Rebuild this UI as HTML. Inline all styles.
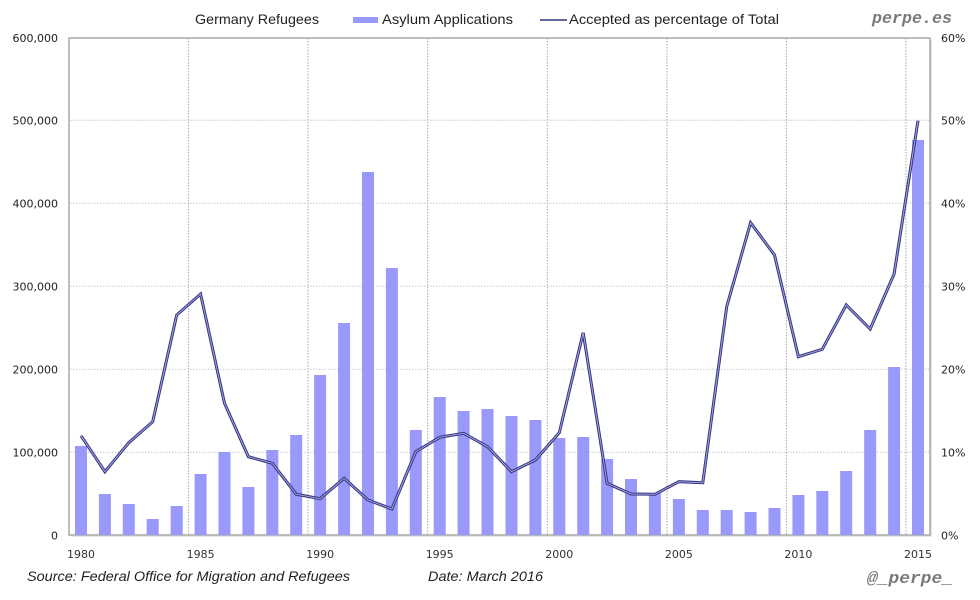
<!DOCTYPE html>
<html><head><meta charset="utf-8"><style>
html,body{margin:0;padding:0;background:#fff;}
svg{display:block;}
</style></head><body>
<svg width="980" height="600" viewBox="0 0 980 600" xmlns="http://www.w3.org/2000/svg">
<rect x="0" y="0" width="980" height="600" fill="#fff"/>
<!-- plot shadow -->
<rect x="71" y="40" width="861" height="497" fill="#e6e6e6"/>
<rect x="69" y="38" width="861" height="497" fill="#fff" stroke="#a8a8a8" stroke-width="1.5"/>
<!-- horizontal gridlines -->
<g stroke="#c8c8c8" stroke-width="1" stroke-dasharray="1.5,1.5">
<line x1="70" y1="120.3" x2="930" y2="120.3"/>
<line x1="70" y1="203.3" x2="930" y2="203.3"/>
<line x1="70" y1="286.3" x2="930" y2="286.3"/>
<line x1="70" y1="369.3" x2="930" y2="369.3"/>
<line x1="70" y1="452.3" x2="930" y2="452.3"/>
</g>
<!-- vertical gridlines -->
<g stroke="#a8a8a8" stroke-width="1" stroke-dasharray="1.5,1.5">
<line x1="188.6" y1="38" x2="188.6" y2="535"/>
<line x1="308.1" y1="38" x2="308.1" y2="535"/>
<line x1="427.7" y1="38" x2="427.7" y2="535"/>
<line x1="547.3" y1="38" x2="547.3" y2="535"/>
<line x1="666.9" y1="38" x2="666.9" y2="535"/>
<line x1="786.4" y1="38" x2="786.4" y2="535"/>
<line x1="906" y1="38" x2="906" y2="535"/>
</g>
<!-- bars -->
<g fill="#9999fb">
<rect x="75" y="446" width="12" height="89"/>
<rect x="98.9" y="494" width="12" height="41"/>
<rect x="122.8" y="504" width="12" height="31"/>
<rect x="146.7" y="519" width="12" height="16"/>
<rect x="170.7" y="506" width="12" height="29"/>
<rect x="194.6" y="474" width="12" height="61"/>
<rect x="218.5" y="452" width="12" height="83"/>
<rect x="242.4" y="487" width="12" height="48"/>
<rect x="266.3" y="450" width="12" height="85"/>
<rect x="290.2" y="435" width="12" height="100"/>
<rect x="314.1" y="375" width="12" height="160"/>
<rect x="338.1" y="323" width="12" height="212"/>
<rect x="362" y="172" width="12" height="363"/>
<rect x="385.9" y="268" width="12" height="267"/>
<rect x="409.8" y="430" width="12" height="105"/>
<rect x="433.7" y="397" width="12" height="138"/>
<rect x="457.6" y="411" width="12" height="124"/>
<rect x="481.5" y="409" width="12" height="126"/>
<rect x="505.5" y="416" width="12" height="119"/>
<rect x="529.4" y="420" width="12" height="115"/>
<rect x="553.3" y="438" width="12" height="97"/>
<rect x="577.2" y="437" width="12" height="98"/>
<rect x="601.1" y="459" width="12" height="76"/>
<rect x="625" y="479" width="12" height="56"/>
<rect x="648.9" y="493" width="12" height="42"/>
<rect x="672.9" y="499" width="12" height="36"/>
<rect x="696.8" y="510" width="12" height="25"/>
<rect x="720.7" y="510" width="12" height="25"/>
<rect x="744.6" y="512" width="12" height="23"/>
<rect x="768.5" y="508" width="12" height="27"/>
<rect x="792.4" y="495" width="12" height="40"/>
<rect x="816.3" y="491" width="12" height="44"/>
<rect x="840.2" y="471" width="12" height="64"/>
<rect x="864.2" y="430" width="12" height="105"/>
<rect x="888.1" y="367" width="12" height="168"/>
<rect x="912" y="140" width="12" height="395"/>
</g>
<!-- line -->
<g fill="none" stroke-linejoin="miter">
<polyline id="ln" stroke="#34347f" stroke-width="3" points="81,435.7 104.9,471.7 128.8,442.7 152.7,421.7 176.7,315 200.6,294 224.5,403.3 248.4,456.7 272.3,463.3 296.2,494.2 320.1,498.7 344.1,478.3 368,500 391.9,509 415.8,451.7 439.7,437.3 463.6,433.3 487.5,446.7 511.5,471.7 535.4,460 559.3,432.7 583.2,332.7 607.1,483.3 631,494 654.9,494.3 678.9,481.7 702.8,482.7 726.7,306.7 750.6,222.7 774.5,255 798.4,356.7 822.3,349.3 846.2,305 870.2,329 894.1,274 918,120.7"/>
<polyline stroke="#a4a4e2" stroke-width="1" points="81,435.7 104.9,471.7 128.8,442.7 152.7,421.7 176.7,315 200.6,294 224.5,403.3 248.4,456.7 272.3,463.3 296.2,494.2 320.1,498.7 344.1,478.3 368,500 391.9,509 415.8,451.7 439.7,437.3 463.6,433.3 487.5,446.7 511.5,471.7 535.4,460 559.3,432.7 583.2,332.7 607.1,483.3 631,494 654.9,494.3 678.9,481.7 702.8,482.7 726.7,306.7 750.6,222.7 774.5,255 798.4,356.7 822.3,349.3 846.2,305 870.2,329 894.1,274 918,120.7"/>
</g>
<!-- left axis labels -->
<g font-family="'DejaVu Sans', 'Liberation Sans', sans-serif" font-size="11" fill="#222" text-anchor="end">
<text x="58" y="42">600,000</text>
<text x="58" y="124.3">500,000</text>
<text x="58" y="207.3">400,000</text>
<text x="58" y="290.3">300,000</text>
<text x="58" y="373.3">200,000</text>
<text x="58" y="456.3">100,000</text>
<text x="58" y="539.3">0</text>
</g>
<!-- right axis labels -->
<g font-family="'DejaVu Sans', 'Liberation Sans', sans-serif" font-size="11" fill="#222" text-anchor="start">
<text x="941" y="42">60%</text>
<text x="941" y="124.3">50%</text>
<text x="941" y="207.3">40%</text>
<text x="941" y="290.3">30%</text>
<text x="941" y="373.3">20%</text>
<text x="941" y="456.3">10%</text>
<text x="941" y="539.3">0%</text>
</g>
<!-- x labels -->
<g font-family="'DejaVu Sans', 'Liberation Sans', sans-serif" font-size="11" fill="#333" text-anchor="middle">
<text x="81" y="558">1980</text>
<text x="200.6" y="558">1985</text>
<text x="320.1" y="558">1990</text>
<text x="439.7" y="558">1995</text>
<text x="559.3" y="558">2000</text>
<text x="678.9" y="558">2005</text>
<text x="798.4" y="558">2010</text>
<text x="918" y="558">2015</text>
</g>
<!-- legend -->
<g font-family="'Liberation Sans', sans-serif" font-size="14" fill="#222">
<text x="195" y="24" textLength="124" lengthAdjust="spacingAndGlyphs">Germany Refugees</text>
<rect x="353" y="17" width="25" height="6" fill="#9999fb"/>
<text x="382" y="24" textLength="131" lengthAdjust="spacingAndGlyphs">Asylum Applications</text>
<line x1="540" y1="20" x2="567" y2="20" stroke="#34347f" stroke-width="1.5"/>
<text x="569" y="24" textLength="210" lengthAdjust="spacingAndGlyphs">Accepted as percentage of Total</text>
</g>
<text x="872" y="23" font-family="'Liberation Mono', monospace" font-weight="bold" font-style="italic" font-size="17" fill="#7a7a7a" textLength="80" lengthAdjust="spacingAndGlyphs">perpe.es</text>
<text x="867" y="583" font-family="'Liberation Mono', monospace" font-weight="bold" font-style="italic" font-size="17" fill="#7a7a7a" textLength="86" lengthAdjust="spacingAndGlyphs">@_perpe_</text>
<g font-family="'Liberation Sans', sans-serif" font-style="italic" font-size="14" fill="#222">
<text x="27" y="581" textLength="323" lengthAdjust="spacingAndGlyphs">Source: Federal Office for Migration and Refugees</text>
<text x="428" y="581" textLength="115" lengthAdjust="spacingAndGlyphs">Date: March 2016</text>
</g>
</svg>
</body></html>
